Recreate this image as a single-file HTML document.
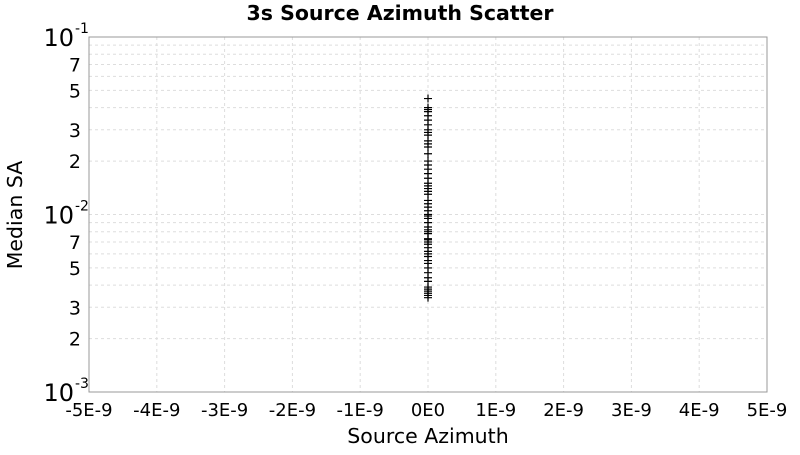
<!DOCTYPE html>
<html><head><meta charset="utf-8"><style>
body{margin:0;background:#fff;font-family:"Liberation Sans","DejaVu Sans",sans-serif}
svg text{font-family:"DejaVu Sans","Liberation Sans",sans-serif}
</style></head><body>
<svg id="c" width="800" height="450" xmlns="http://www.w3.org/2000/svg">
<rect width="800" height="450" fill="#fff"/>
<text x="400" y="20" text-anchor="middle" font-size="20.5" font-weight="bold">3s Source Azimuth Scatter</text>
<g id="grid"></g>
<g id="axes"></g>
<g id="pts"></g>
<rect x="89" y="37" width="678" height="355" fill="none" stroke="#999"/>
<text x="428" y="443" text-anchor="middle" font-size="20.5">Source Azimuth</text>
<text transform="translate(22,215) rotate(-90)" text-anchor="middle" font-size="20.5">Median SA</text>
</svg>
<script>
const xTicks=[-5e-9,-4e-9,-3e-9,-2e-9,-1e-9,0,1e-9,2e-9,3e-9,4e-9,5e-9];
const xTickLabels=["-5E-9","-4E-9","-3E-9","-2E-9","-1E-9","0E0","1E-9","2E-9","3E-9","4E-9","5E-9"];
const xValues=[0,0,0,0,0,0,0,0,0,0,0,0,0,0,0,0,0,0,0,0,0,0,0,0,0,0,0,0,0,0,0,0,0,0,0,0,0,0,0,0,0,0,0,0,0,0,0,0,0,0,0,0,0,0,0,0];
const yValues=[0.045,0.040,0.039,0.038,0.036,0.034,0.032,0.030,0.029,0.028,0.026,0.025,0.024,0.022,0.020,0.019,0.018,0.017,0.016,0.015,0.0145,0.014,0.0135,0.013,0.012,0.0115,0.011,0.0105,0.010,0.0098,0.0095,0.009,0.0085,0.0082,0.008,0.0078,0.0073,0.0072,0.007,0.0068,0.0065,0.0062,0.006,0.0058,0.0055,0.0053,0.005,0.0047,0.0044,0.0042,0.0039,0.0038,0.0037,0.0036,0.0035,0.0034];
const L=89,R=767,T=37,B=392,X0=-5e-9,X1=5e-9,LY0=-3,LY1=-1;
const xs=v=>L+(v-X0)/(X1-X0)*(R-L);
const ys=v=>B-(Math.log10(v)-LY0)/(LY1-LY0)*(B-T);
const NS="http://www.w3.org/2000/svg";
function mk(t,a,p){const e=document.createElementNS(NS,t);for(const k in a)e.setAttribute(k,a[k]);p.appendChild(e);return e;}
const g=document.getElementById('grid'),ax=document.getElementById('axes'),pg=document.getElementById('pts');
xTicks.forEach((v,i)=>{const x=xs(v);
 const l=mk('line',{x1:x,x2:x,y1:T,y2:B,stroke:'#ddd','stroke-dasharray':'3,3'},g);
 
 
 const t=mk('text',{x:x,y:416,'text-anchor':'middle','font-size':'18'},ax);t.textContent=xTickLabels[i];
 
 
});
const lab={2:'2',3:'3',5:'5',7:'7'};
for(let d=-3;d<-1;d++)for(let m=1;m<=10;m++){const v=m*Math.pow(10,d);const y=ys(v);
 if(m<10){const l=mk('line',{x1:L,x2:R,y1:y,y2:y,stroke:'#ddd','stroke-dasharray':'3,3'},g);
 
 }
 if(lab[m]){const t=mk('text',{x:81,y:y+7,'text-anchor':'end','font-size':'19'},ax);t.textContent=lab[m];
 
 }
}
[-3,-2,-1].forEach(d=>{const y=ys(Math.pow(10,d));
 const t=mk('text',{x:74,y:y+9,'font-size':'24','text-anchor':'end'},ax);t.textContent='10';
 
 
 const s=mk('text',{x:75,y:y-4,'font-size':'14'},ax);s.textContent='-'+String(-d);
 
 
});
yValues.forEach((v,i)=>{const x=xs(xValues[i]),y=ys(v);
 const p=mk('path',{d:`M${x-4},${y}H${x+4}M${x},${y-4}V${y+4}`,stroke:'#000','stroke-width':'1.2'},pg);
 
 
});
</script>
</body></html>
